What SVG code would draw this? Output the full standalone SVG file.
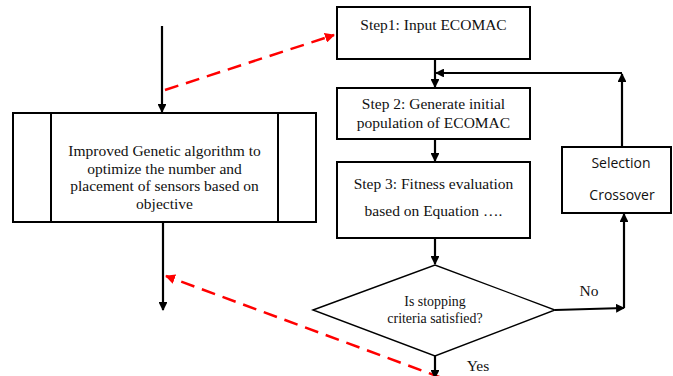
<svg xmlns="http://www.w3.org/2000/svg" width="673" height="376" viewBox="0 0 673 376">
<defs>
<marker id="ah" viewBox="0 0 10 10" refX="9" refY="5" markerWidth="4" markerHeight="4" orient="auto" markerUnits="strokeWidth"><path d="M0,0 L10,5 L0,10 z" fill="#000"/></marker>
<marker id="ahr" viewBox="0 0 10 10" refX="9" refY="5" markerWidth="4" markerHeight="4" orient="auto" markerUnits="strokeWidth"><path d="M0,0 L10,5 L0,10 z" fill="#ff0000"/></marker>
</defs>
<style>
.box{fill:#fff;stroke:#000;stroke-width:2}
.ln{fill:none;stroke:#000;stroke-width:2.2}
.red{fill:none;stroke:#ff0000;stroke-width:2.5;stroke-dasharray:14 8}
.t{font-family:"Liberation Serif","Times New Roman",serif;font-size:15.5px;fill:#111;text-anchor:middle}
.ts{font-family:"Liberation Serif","Times New Roman",serif;font-size:13.9px;fill:#111;text-anchor:middle}
.s{font-family:"Open Sans","Noto Sans",sans-serif;font-size:14px;fill:#111;text-anchor:middle}
</style>
<g id="improved-ga">
<rect class="box" x="13" y="113" width="303" height="109"/>
<line x1="51" y1="113" x2="51" y2="222" stroke="#000" stroke-width="2"/>
<line x1="278" y1="113" x2="278" y2="222" stroke="#000" stroke-width="2"/>
<text class="t" x="164.5" y="156">Improved Genetic algorithm to</text>
<text class="t" x="164.5" y="173.5">optimize the number and</text>
<text class="t" x="164.5" y="191">placement of sensors based on</text>
<text class="t" x="164.5" y="208.5">objective</text>
</g>
<g id="step1">
<rect class="box" x="337" y="7" width="193" height="52"/>
<text class="t" x="433.5" y="30">Step1: Input ECOMAC</text>
</g>
<g id="step2">
<rect class="box" x="337" y="88" width="193" height="51"/>
<text class="t" x="433.5" y="109">Step 2: Generate initial</text>
<text class="t" x="433.5" y="128">population of ECOMAC</text>
</g>
<g id="step3">
<rect class="box" x="337" y="162" width="193" height="76"/>
<text class="t" x="433.5" y="189">Step 3: Fitness evaluation</text>
<text class="t" x="433.5" y="216">based on Equation ….</text>
</g>
<g id="selection">
<rect class="box" x="562" y="147" width="109" height="66"/>
<text class="s" x="621" y="168">Selection</text>
<text class="s" x="622" y="200">Crossover</text>
</g>
<g id="decision">
<polygon points="313,310 435,265 555,310 435,356" fill="#fff" stroke="#000" stroke-width="1.4"/>
<text class="ts" x="435" y="306">Is stopping</text>
<text class="ts" x="435" y="323">criteria satisfied?</text>
</g>
<g id="connectors">
<line class="ln" x1="162" y1="26" x2="162" y2="112" marker-end="url(#ah)"/>
<line class="ln" x1="163" y1="222" x2="163" y2="310" marker-end="url(#ah)"/>
<line class="red" x1="165" y1="90" x2="334" y2="35" marker-end="url(#ahr)"/>
<line class="red" x1="442" y1="378" x2="166" y2="276" marker-end="url(#ahr)"/>
<line class="ln" x1="435" y1="59" x2="435" y2="87" marker-end="url(#ah)"/>
<line class="ln" x1="435" y1="139" x2="435" y2="161" marker-end="url(#ah)"/>
<line class="ln" x1="435" y1="238" x2="435" y2="264" marker-end="url(#ah)"/>
<line class="ln" x1="435" y1="356" x2="435" y2="378" marker-end="url(#ah)"/>
<polyline class="ln" points="622,147 622,74" marker-end="url(#ah)"/>
<polyline class="ln" points="622,73 436,73" marker-end="url(#ah)"/>
<polyline class="ln" points="555,310 624,308" marker-end="url(#ah)"/>
<polyline class="ln" points="624,308 624,214" marker-end="url(#ah)"/>
<text class="t" x="589" y="296">No</text>
<text class="t" x="478" y="371">Yes</text>
</g>
</svg>
